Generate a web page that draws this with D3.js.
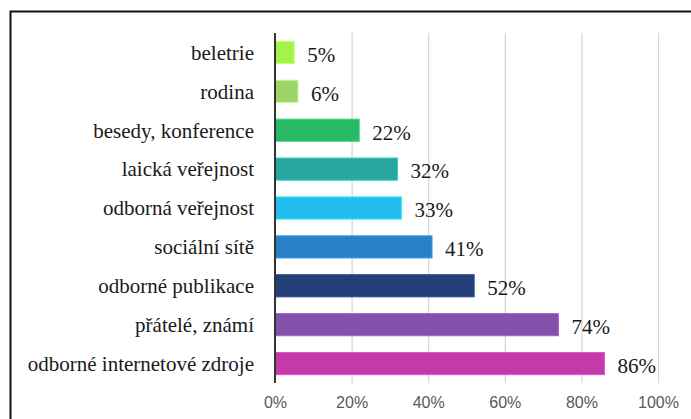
<!DOCTYPE html>
<html>
<head>
<meta charset="utf-8">
<script src="https://cdn.jsdelivr.net/npm/d3@7"></script>
<style>
  html, body { margin: 0; padding: 0; background: #fff; }
  svg { display: block; }
  .serif { font-family: "Liberation Serif", "Times New Roman", Times, serif; }
  .sans { font-family: "Liberation Sans", Arial, sans-serif; }
</style>
</head>
<body>
<svg id="chart" width="691" height="419"></svg>
<script>
const categories = ["beletrie", "rodina", "besedy, konference", "laická veřejnost", "odborná veřejnost", "sociální sítě", "odborné publikace", "přátelé, známí", "odborné internetové zdroje"];
const values = [5, 6, 22, 32, 33, 41, 52, 74, 86];
const colors = ["#a4f24c", "#9cd46a", "#28b866", "#27a7a0", "#25bcef", "#2a80c7", "#233f78", "#8350aa", "#c23ba8"];
const tickValues = [0, 20, 40, 60, 80, 100];

const svg = d3.select("#chart");
const W = 691, H = 419;

svg.append("path")
  .attr("d", `M10.5,${H} L10.5,11.5 L${W},11.5`)
  .attr("fill", "none").attr("stroke", "#111").attr("stroke-width", 2);

const x = d3.scaleLinear().domain([0, 100]).range([275, 658]);
const y = d3.scaleBand().domain(categories).range([33, 383]).paddingInner(0.43).paddingOuter(0.215);

svg.append("g").selectAll("line").data(tickValues.filter(d => d > 0)).join("line")
  .attr("x1", d => x(d) + 0.5).attr("x2", d => x(d) + 0.5)
  .attr("y1", 33).attr("y2", 383)
  .attr("stroke", "#d4d4d4").attr("stroke-width", 1.2);

const data = categories.map((c, i) => ({c, v: values[i], col: colors[i]}));
svg.append("g").selectAll("rect").data(data).join("rect")
  .attr("x", x(0)).attr("y", d => y(d.c))
  .attr("width", d => x(d.v) - x(0)).attr("height", y.bandwidth())
  .attr("fill", d => d.col)
  .attr("stroke", d => d3.color(d.col).brighter(0.6)).attr("stroke-width", 1);

svg.append("line").attr("x1", x(0)).attr("x2", x(0)).attr("y1", 33).attr("y2", 383)
  .attr("stroke", "#333").attr("stroke-width", 2);

svg.append("g").selectAll("text").data(data).join("text")
  .attr("class", "serif")
  .attr("x", 254).attr("y", d => y(d.c) + y.bandwidth() / 2)
  .attr("dy", "0.35em").attr("text-anchor", "end")
  .attr("font-size", 21).attr("fill", "#1a1a1a")
  .text(d => d.c);

svg.append("g").selectAll("text").data(data).join("text")
  .attr("class", "serif")
  .attr("x", d => x(d.v) + 13).attr("y", d => y(d.c) + y.bandwidth() / 2 + 2)
  .attr("dy", "0.35em")
  .attr("font-size", 21).attr("fill", "#1a1a1a")
  .text(d => d.v + "%");

const axis = d3.axisBottom(x).tickValues(tickValues).tickFormat(d => d + "%").tickSize(0).tickPadding(0);
const ax = svg.append("g").attr("transform", "translate(0,397)").call(axis);
ax.select(".domain").remove();
ax.attr("font-family", null).attr("font-size", null);
ax.selectAll("text").attr("class", "sans")
  .attr("font-size", 16).attr("fill", "#595959");
</script>
</body>
</html>
